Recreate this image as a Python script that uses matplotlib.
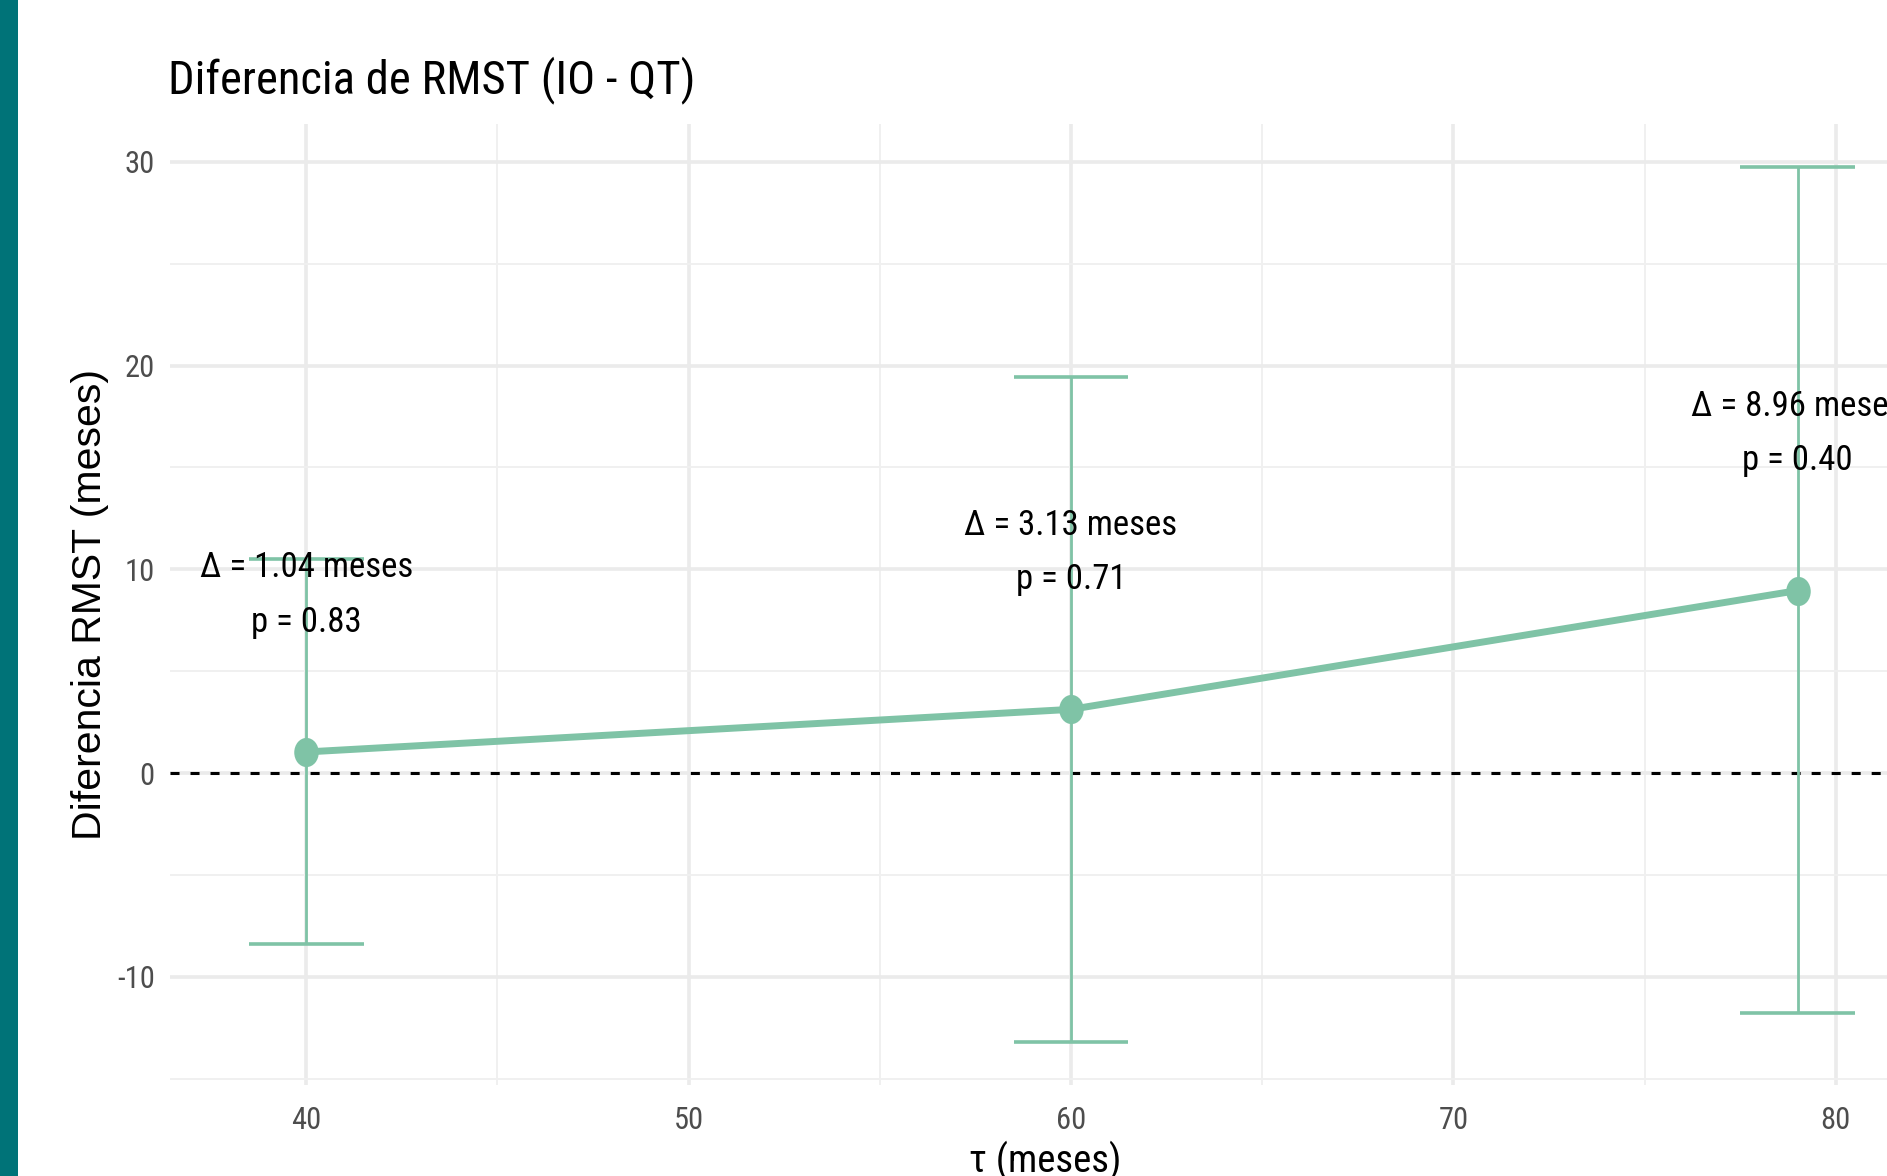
import matplotlib
matplotlib.use("Agg")
import matplotlib.pyplot as plt
from matplotlib import font_manager as fm
from matplotlib.path import Path
from matplotlib.markers import MarkerStyle
from matplotlib.transforms import Affine2D
from matplotlib.patches import Rectangle
import numpy as np

# ---- data ----
tau = [40, 60, 79]
diff = [1.04, 3.13, 8.96]
ci_low = [-8.40, -13.17, -11.77]
ci_high = [10.51, 19.46, 29.73]
p_values = [0.83, 0.71, 0.40]
x_ticks = [40, 50, 60, 70, 80]
y_ticks = [-10, 0, 10, 20, 30]
title = "Diferencia de RMST (IO - QT)"
xlabel = "τ (meses)"
ylabel = "Diferencia RMST (meses)"

names = {f.name for f in fm.fontManager.ttflist}
def pick(cands, default):
    for c in cands:
        if c in names:
            return c
    return default

NARROW = pick(["Nimbus Sans Narrow", "Liberation Sans Narrow", "Arial Narrow",
               "Helvetica Narrow", "Roboto Condensed", "PT Sans Narrow", "Archivo Narrow"],
              "Liberation Sans")
REG = pick(["Nimbus Sans", "Liberation Sans", "Arimo"], "DejaVu Sans")
plt.rcParams["font.family"] = [NARROW, "DejaVu Sans"]
plt.rcParams["axes.unicode_minus"] = False

GREEN = "#7fc3a6"
W, H = 1887, 1176
fig = plt.figure(figsize=(W / 100, H / 100), dpi=100)
fig.patch.set_facecolor("white")

# teal side bar
fig.patches.append(Rectangle((0, 0), 18 / W, 1, transform=fig.transFigure,
                             facecolor="#007378", edgecolor="none", zorder=10))

left, right, top, bottom = 170, 1920, 124, 1085
ax = fig.add_axes([left / W, 1 - bottom / H, (right - left) / W, (bottom - top) / H])
ax.set_xlim(36.44, 82.2)
ax.set_ylim(-15.3, 31.85)
for s in ax.spines.values():
    s.set_visible(False)

ax.set_xticks(x_ticks)
ax.set_yticks(y_ticks)
ax.set_xticks([45, 55, 65, 75], minor=True)
ax.set_yticks([-15, -5, 5, 15, 25], minor=True)
ax.grid(which="major", color="#ebebeb", lw=2.6, zorder=0)
ax.grid(which="minor", color="#f0f0f0", lw=1.4, zorder=0)
ax.set_axisbelow(True)
ax.tick_params(which="both", length=0)
ax.tick_params(axis="x", pad=15, labelsize=22, labelcolor="#4d4d4d")
ax.tick_params(axis="y", pad=11, labelsize=22, labelcolor="#4d4d4d")

# zero reference line
ax.axhline(0, color="black", lw=2.2, ls=(0, (2.95, 3.6)), zorder=2)

# error bars
tau_a = np.array(tau, dtype=float)
ax.vlines(tau, ci_low, ci_high, color=GREEN, lw=2.0, zorder=3)
ax.hlines(ci_low, tau_a - 1.5, tau_a + 1.5, color=GREEN, lw=2.6, zorder=3)
ax.hlines(ci_high, tau_a - 1.5, tau_a + 1.5, color=GREEN, lw=2.6, zorder=3)

# line + points
ellipse = Path.unit_circle().transformed(Affine2D().scale(0.84, 1.0))
ax.plot(tau, diff, color=GREEN, lw=5, zorder=4, solid_capstyle="butt")
ax.plot(tau, diff, ls="none", marker=MarkerStyle(ellipse), markersize=21,
        color=GREEN, markeredgewidth=0, zorder=5)

for t, d, p in zip(tau, diff, p_values):
    ax.text(t, d + 7.7, f"Δ = {d:.2f} meses\np = {p:.2f}", ha="center", va="center",
            fontsize=25, linespacing=1.82, color="black", zorder=6,
            family=[NARROW, "DejaVu Sans"])

ax.set_xlabel(xlabel, fontsize=28, color="black")
ax.xaxis.set_label_coords(0.5, -0.079)
ax.xaxis.label.set_va("center")
ax.set_ylabel(ylabel, fontsize=29.5, color="black", family=[REG, "DejaVu Sans"])
ax.yaxis.set_label_coords(-0.0457, 0.5)
ax.yaxis.label.set_va("center")

fig.text(168 / W, 1 - 80 / H, title, fontsize=33.6, ha="left", va="center", color="black")

fig.savefig("out.png", dpi=100)
